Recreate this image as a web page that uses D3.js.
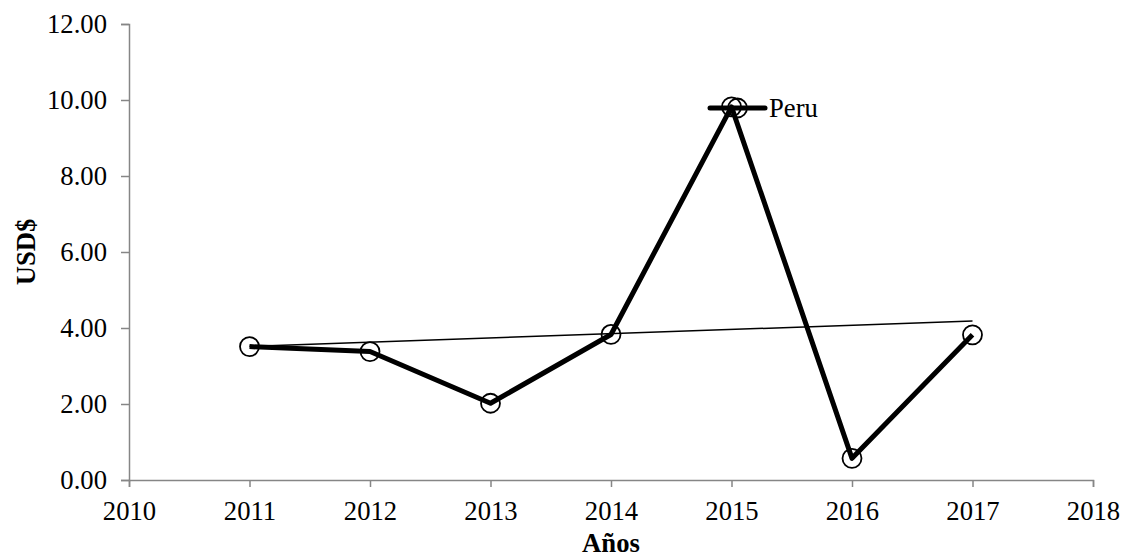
<!DOCTYPE html>
<html><head><meta charset="utf-8">
<script src="https://cdn.jsdelivr.net/npm/d3@7"></script>
<style>body{margin:0;background:#fff}svg{display:block}text{font-family:"Liberation Serif","Times New Roman",serif;fill:#000}</style>
</head><body>
<script>
const years = [2011, 2012, 2013, 2014, 2015, 2016, 2017];
const peru = [3.51, 3.38, 2.02, 3.83, 9.82, 0.57, 3.82];
const xTicks = [2010, 2011, 2012, 2013, 2014, 2015, 2016, 2017, 2018];
const yTicks = [0, 2, 4, 6, 8, 10, 12];
const seriesName = "Peru";
const xTitle = "Años";
const yTitle = "USD$";

const W = 1123, H = 560;
const m = {left: 129, right: 30, top: 24, bottom: 80};
const svg = d3.select("body").append("svg").attr("width", W).attr("height", H);
const x = d3.scaleLinear().domain([2010, 2018]).range([m.left, W - m.right]);
const y = d3.scaleLinear().domain([0, 12]).range([H - m.bottom, m.top]);
const fs = "26.67px";
const axisCol = "#868686";

const gx = svg.append("g").attr("transform", `translate(0,${y(0)})`)
  .call(d3.axisBottom(x).tickValues(xTicks).tickFormat(d3.format("d")).tickSize(7).tickPadding(13));
const gy = svg.append("g").attr("transform", `translate(${x(2010)},0)`)
  .call(d3.axisLeft(y).tickValues(yTicks).tickFormat(d3.format(".2f")).tickSize(8).tickPadding(14));
[gx, gy].forEach(g => {
  g.select(".domain").attr("stroke", axisCol).attr("stroke-width", 1.5);
  g.selectAll(".tick line").attr("stroke", axisCol).attr("stroke-width", 1.5);
  g.selectAll(".tick text").style("font-size", fs).style("font-family", '"Liberation Serif",serif').attr("fill", "#000");
});
gx.selectAll(".tick text").attr("dy", "0.75em");

// trend line (least squares)
const n = years.length;
const mx = d3.mean(years), my = d3.mean(peru);
const slope = d3.sum(years.map((v, i) => (v - mx) * (peru[i] - my))) / d3.sum(years.map(v => (v - mx) ** 2));
const icpt = my - slope * mx;
const xs = [years[0], years[n - 1]];
svg.append("line")
  .attr("x1", x(xs[0])).attr("y1", y(icpt + slope * xs[0]))
  .attr("x2", x(xs[1])).attr("y2", y(icpt + slope * xs[1]))
  .attr("stroke", "#000").attr("stroke-width", 1.5);

const data = years.map((yr, i) => ({yr, v: peru[i]}));
svg.append("path").datum(data)
  .attr("d", d3.line().x(d => x(d.yr)).y(d => y(d.v)))
  .attr("fill", "none").attr("stroke", "#000").attr("stroke-width", 5).attr("stroke-linejoin", "round");
svg.selectAll("circle.pt").data(data).join("circle").attr("class", "pt")
  .attr("cx", d => x(d.yr)).attr("cy", d => y(d.v)).attr("r", 9.5)
  .attr("fill", "none").attr("stroke", "#000").attr("stroke-width", 1.8);

// legend
const lg = svg.append("g").attr("transform", "translate(710,108)");
lg.append("line").attr("x1", 0).attr("x2", 55).attr("y1", 0).attr("y2", 0)
  .attr("stroke", "#000").attr("stroke-width", 5).attr("stroke-linecap", "round");
lg.append("circle").attr("cx", 27.5).attr("cy", 0).attr("r", 9.5)
  .attr("fill", "none").attr("stroke", "#000").attr("stroke-width", 1.8);
lg.append("text").attr("x", 59).attr("y", 0).attr("dy", "0.33em").style("font-size", fs).text(seriesName);

svg.append("text").attr("x", (x(2010) + x(2018)) / 2).attr("y", 552)
  .attr("text-anchor", "middle").style("font-size", fs).style("font-weight", "bold").text(xTitle);
svg.append("text").attr("transform", `translate(35,${y(6)}) rotate(-90)`)
  .attr("text-anchor", "middle").style("font-size", fs).style("font-weight", "bold").text(yTitle);
</script>
</body></html>
